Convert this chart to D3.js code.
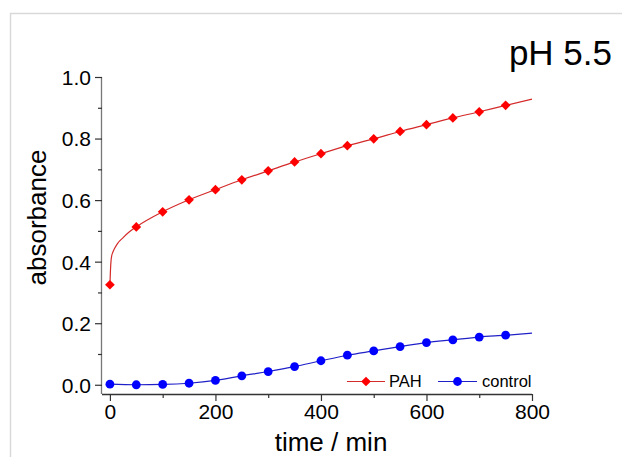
<!DOCTYPE html>
<html>
<head>
<meta charset="utf-8">
<script src="https://cdn.jsdelivr.net/npm/d3@7/dist/d3.min.js"></script>
<style>
  html, body { margin: 0; padding: 0; background: #fff; }
  svg { display: block; font-family: "Liberation Sans", Arial, sans-serif; }
</style>
</head>
<body>
<script>
// ---- data ----
const markerTimes = [0, 50, 100, 150, 200, 250, 300, 350, 400, 450, 500, 550, 600, 650, 700, 750];
const pahMarkers = [0.325, 0.513, 0.562, 0.601, 0.634, 0.666, 0.695, 0.724, 0.751, 0.777, 0.799, 0.823, 0.845, 0.867, 0.887, 0.908];
const controlMarkers = [0.002, 0.000, 0.001, 0.005, 0.014, 0.029, 0.043, 0.059, 0.078, 0.096, 0.110, 0.124, 0.137, 0.146, 0.155, 0.161];
// continuous trace readings (time, absorbance)
const pahTraceTimes = [0, 1, 2, 3.5, 5, 8, 14, 25, 37, 50, 100, 150, 200, 250, 300, 350, 400, 450, 500, 550, 600, 650, 700, 750, 800];
const pahTraceValues = [0.325, 0.37, 0.40, 0.42, 0.428, 0.44, 0.458, 0.478, 0.497, 0.513, 0.562, 0.601, 0.634, 0.666, 0.695, 0.724, 0.751, 0.777, 0.799, 0.823, 0.845, 0.867, 0.887, 0.908, 0.928];
const controlTraceTimes = [0, 50, 100, 150, 200, 250, 300, 350, 400, 450, 500, 550, 600, 650, 700, 750, 800];
const controlTraceValues = [0.002, 0.000, 0.001, 0.005, 0.014, 0.029, 0.043, 0.059, 0.078, 0.096, 0.110, 0.124, 0.137, 0.146, 0.155, 0.161, 0.168];
const xTicks = [0, 100, 200, 300, 400, 500, 600, 700, 800];
const xTickLabels = ["0", "", "200", "", "400", "", "600", "", "800"];
const yTicks = [0, 0.1, 0.2, 0.3, 0.4, 0.5, 0.6, 0.7, 0.8, 0.9, 1.0];
const yTickLabels = ["0.0", "", "0.2", "", "0.4", "", "0.6", "", "0.8", "", "1.0"];
const seriesNames = ["PAH", "control"];
const seriesColors = ["#ff0000", "#0000ff"];
const lineColors = ["#d42a2a", "#2020c8"];

const W = 622, H = 457;
const svg = d3.select("body").append("svg").attr("width", W).attr("height", H);

// frame
svg.append("rect").attr("x", 10.5).attr("y", 13.5).attr("width", 700).attr("height", 600)
  .attr("fill", "none").attr("stroke", "#d9d9d9").attr("stroke-width", 1.5);

const x = d3.scaleLinear().domain([-15, 800]).range([102, 532]);
const y = d3.scaleLinear().domain([-0.03, 1.0]).range([394, 77]);

// axes
const xAxis = d3.axisBottom(x).tickValues(xTicks)
  .tickFormat((d, i) => xTickLabels[i]).tickSizeOuter(0)
  .tickSizeInner(7);
const gx = svg.append("g").attr("transform", `translate(0,${y.range()[0]})`).call(xAxis);
gx.select(".domain").attr("stroke", "#333").attr("stroke-width", 1.3)
  .attr("d", `M${x.range()[0]},0.5H${x.range()[1]}`);
gx.selectAll(".tick line").attr("stroke", "#333").attr("stroke-width", 1.2)
  .attr("y2", (d, i) => xTickLabels[i] ? 7 : 4);
gx.selectAll(".tick text").attr("font-size", 21).attr("fill", "#000").attr("y", 10).attr("dy", "0.71em");

const yAxis = d3.axisLeft(y).tickValues(yTicks)
  .tickFormat((d, i) => yTickLabels[i]).tickSizeOuter(0).tickSizeInner(7);
const gy = svg.append("g").attr("transform", `translate(${x.range()[0]},0)`).call(yAxis);
gy.select(".domain").attr("stroke", "#777").attr("stroke-width", 1.3)
  .attr("d", `M-0.5,${y.range()[1]}V${y.range()[0]}`);
gy.selectAll(".tick line").attr("stroke", "#333").attr("stroke-width", 1.2)
  .attr("x2", (d, i) => yTickLabels[i] ? -7 : -4);
gy.selectAll(".tick text").attr("font-size", 21).attr("fill", "#000").attr("x", -11).attr("dy", "0.35em");

// axis titles
svg.append("text").attr("x", 331).attr("y", 451).attr("text-anchor", "middle")
  .attr("font-size", 26).text("time / min");
svg.append("text").attr("transform", "translate(46,217.5) rotate(-90)")
  .attr("text-anchor", "middle").attr("font-size", 26).text("absorbance");
svg.append("text").attr("x", 612).attr("y", 65).attr("text-anchor", "end")
  .attr("font-size", 35).text("pH 5.5");

// lines
const line = d3.line().x(d => x(d[0])).y(d => y(d[1])).curve(d3.curveMonotoneX);
const pahTrace = pahTraceTimes.map((t, i) => [t, pahTraceValues[i]]);
const controlTrace = controlTraceTimes.map((t, i) => [t, controlTraceValues[i]]);
svg.append("path").datum(controlTrace).attr("d", line).attr("fill", "none")
  .attr("stroke", lineColors[1]).attr("stroke-width", 1.2);
svg.append("path").datum(pahTrace).attr("d", line).attr("fill", "none")
  .attr("stroke", lineColors[0]).attr("stroke-width", 1.2);

// markers
const diamond = d3.symbol().type(d3.symbolDiamond2).size(60);
svg.append("g").selectAll("circle").data(markerTimes).join("circle")
  .attr("cx", d => x(d)).attr("cy", (d, i) => y(controlMarkers[i])).attr("r", 4.4)
  .attr("fill", seriesColors[1]);
svg.append("g").selectAll("path").data(markerTimes).join("path")
  .attr("d", diamond).attr("transform", (d, i) => `translate(${x(d)},${y(pahMarkers[i])})`)
  .attr("fill", seriesColors[0]);

// legend
const lg = svg.append("g");
const legendItems = [
  { name: seriesNames[0], x0: 347, x1: 385, tx: 389 },
  { name: seriesNames[1], x0: 438, x1: 477, tx: 482 }
];
legendItems.forEach((it, i) => {
  lg.append("line").attr("x1", it.x0).attr("x2", it.x1).attr("y1", 381.5).attr("y2", 381.5)
    .attr("stroke", lineColors[i]).attr("stroke-width", 1.2);
  if (i === 0) {
    lg.append("path").attr("d", diamond).attr("transform", `translate(${(it.x0 + it.x1) / 2},381.5)`)
      .attr("fill", seriesColors[0]);
  } else {
    lg.append("circle").attr("cx", (it.x0 + it.x1) / 2).attr("cy", 381.5).attr("r", 4.4)
      .attr("fill", seriesColors[1]);
  }
  lg.append("text").attr("x", it.tx).attr("y", 387).attr("font-size", 16.5).text(it.name);
});
</script>
</body>
</html>
